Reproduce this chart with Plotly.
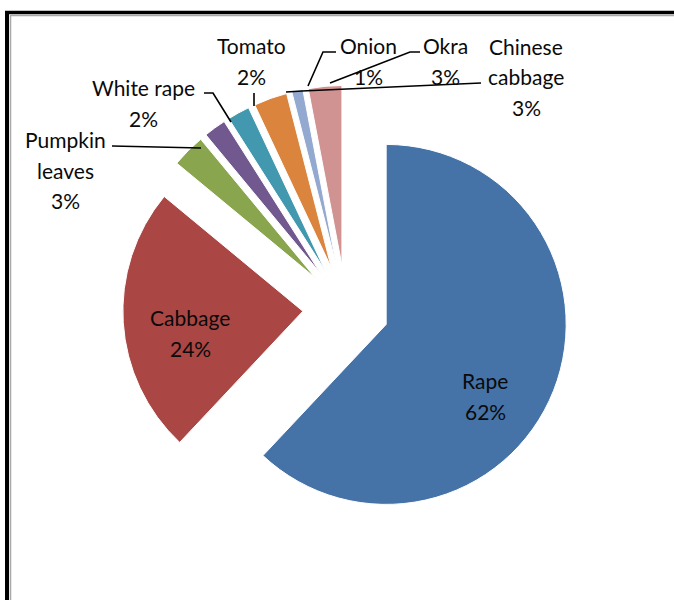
import plotly.graph_objects as go

W, H = 674, 600

# Vegetable crops and their share of the total (%)
crops = ["Rape", "Cabbage", "Pumpkin leaves", "White rape", "Tomato",
         "Chinese cabbage", "Onion", "Okra"]
shares = [62, 24, 3, 2, 2, 3, 1, 3]
colors = ["#4572A7", "#AA4643", "#89A54E", "#71588F", "#4198AF",
          "#DB843D", "#93A9CF", "#D19392"]

FONT = "Lato"
FSIZE = 21
LINE_GAP = 31  # px between text baselines


def px(x):
    return x / W


def py(y):
    return 1 - y / H


# Pie geometry (pixels): centre, radius and explode fraction
cx, cy, R, PULL = 346, 308.5, 180, 0.24
half = R * (1 + PULL)

fig = go.Figure(go.Pie(
    labels=crops,
    values=shares,
    sort=False,
    direction="clockwise",
    rotation=0,
    pull=[PULL] * len(crops),
    marker=dict(colors=colors, line=dict(color="white", width=1)),
    textinfo="none",
    hovertemplate="%{label}: %{value}%<extra></extra>",
    showlegend=False,
    domain=dict(x=[px(cx - half), px(cx + half)],
                y=[py(cy + half), py(cy - half)]),
))

# Label text: name words split over lines, then the percentage
label_words = {
    "Rape": ["Rape"],
    "Cabbage": ["Cabbage"],
    "Pumpkin leaves": ["Pumpkin", "leaves"],
    "White rape": ["White rape"],
    "Tomato": ["Tomato"],
    "Chinese cabbage": ["Chinese", "cabbage"],
    "Onion": ["Onion"],
    "Okra": ["Okra"],
}

# Centre of each label block and its leader line (pixels)
label_pos = {
    "Rape": (485, 396),
    "Cabbage": (190, 333),
    "Pumpkin leaves": (65, 170),
    "White rape": (143, 103),
    "Tomato": (251, 61),
    "Chinese cabbage": (526, 77),
    "Onion": (368, 61),
    "Okra": (445, 61),
}
leaders = {
    "Pumpkin leaves": [(112, 146), (201, 148)],
    "White rape": [(204, 93), (213, 93), (231, 122)],
    "Tomato": [(254, 93), (254, 106)],
    "Chinese cabbage": [(481, 83), (302, 91), (286, 92)],
    "Onion": [(336, 52), (323, 52), (308, 86)],
    "Okra": [(420, 52), (410, 52), (330, 83)],
}

annotations = []
for name, val in zip(crops, shares):
    lines = label_words[name] + [f"{val}%"]
    x0, yc = label_pos[name]
    top = yc - LINE_GAP * (len(lines) - 1) / 2
    for i, t in enumerate(lines):
        annotations.append(dict(
            x=px(x0), y=py(top + i * LINE_GAP), xref="paper", yref="paper",
            text=t, showarrow=False, xanchor="center", yanchor="middle",
            font=dict(family=FONT, size=FSIZE, color="#0a0a0a"),
        ))

shapes = []
for name, pts in leaders.items():
    path = "M " + " L ".join(f"{px(x)},{py(y)}" for x, y in pts)
    shapes.append(dict(type="path", xref="paper", yref="paper", path=path,
                       line=dict(color="black", width=1.6)))

# Frame around the chart area (double rule on the left and top)
shapes += [
    dict(type="line", xref="paper", yref="paper",
         x0=px(7), x1=px(7), y0=py(11), y1=py(600),
         line=dict(color="black", width=4)),
    dict(type="line", xref="paper", yref="paper",
         x0=px(5), x1=px(674), y0=py(12.5), y1=py(12.5),
         line=dict(color="black", width=3.5)),
    dict(type="line", xref="paper", yref="paper",
         x0=px(10.5), x1=px(10.5), y0=py(15), y1=py(600),
         line=dict(color="#A8A8A8", width=1.5)),
    dict(type="line", xref="paper", yref="paper",
         x0=px(10), x1=px(674), y0=py(15.5), y1=py(15.5),
         line=dict(color="#A8A8A8", width=1.5)),
]

fig.update_layout(
    width=W, height=H, autosize=False,
    margin=dict(l=0, r=0, t=0, b=0),
    paper_bgcolor="white", plot_bgcolor="white",
    annotations=annotations, shapes=shapes,
)

fig.write_html("out.html")
